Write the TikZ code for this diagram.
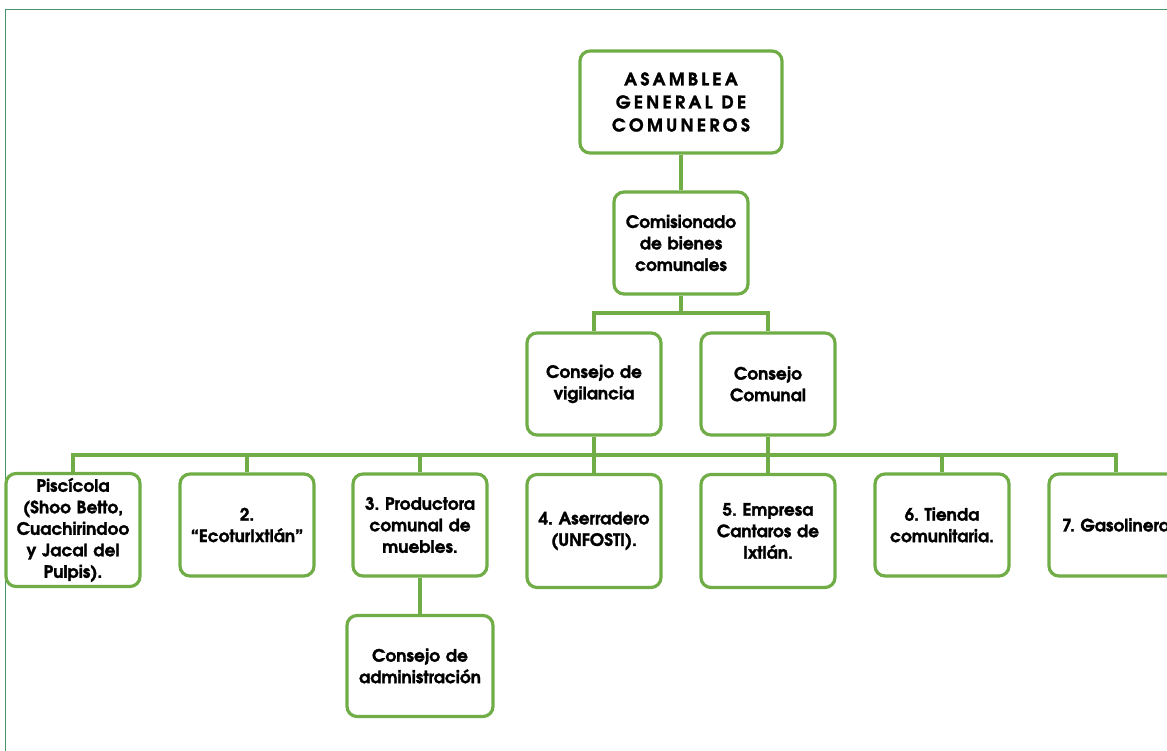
\documentclass[tikz,border=0pt]{standalone}
\usepackage{fontspec}
\setmainfont{texgyreadventor-bold.otf}[FakeBold=1.6]
\definecolor{boxgreen}{RGB}{112,173,71}
\definecolor{framegreen}{RGB}{70,150,105}
\frenchspacing
\begin{document}
\begin{tikzpicture}[x=1pt,y=-1pt,
  orgbox/.style={draw=boxgreen, line width=3.2pt, rounded corners=10pt, fill=white,
    text width=128pt, inner xsep=3pt, inner ysep=0pt, align=center, minimum height=102pt,
    font=\fontsize{17}{21.5}\selectfont},
  link/.style={draw=boxgreen, line width=3.2pt}]
\useasboundingbox (0,0) rectangle (1167,751);
\clip (0,0) rectangle (1167,751);
\draw[framegreen, line width=1.3pt] (1167,9.5) -- (5.5,9.5) -- (5.5,751);
\node[orgbox, text width=196pt, font=\fontsize{17.5}{23}\selectfont\addfontfeature{LetterSpace=19}] (asm) at (681,102) {ASAMBLEA\\GENERAL\hspace{9pt}DE\\COMUNEROS};
\node[orgbox] (com) at (681,243) {Comisionado\\de bienes\\comunales};
\node[orgbox] (vig) at (594,384) {Consejo de\\vigilancia};
\node[orgbox] (cmn) at (768,384) {Consejo\\Comunal};
\node[orgbox, minimum height=113pt] (p1) at (73,530) {Piscícola\\(Shoo Betto,\\Cuachirindoo\\y Jacal del\\Pulpis).};
\node[orgbox] (p2) at (247,525) {2.\\“EcoturIxtlán”};
\node[orgbox] (p3) at (420,525) {3. Productora\\comunal de\\muebles.};
\node[orgbox, minimum height=113pt] (p4) at (594,531) {4. Aserradero\\(UNFOSTI).};
\node[orgbox, minimum height=113pt] (p5) at (768,531) {5. Empresa\\Cantaros de\\Ixtlán.};
\node[orgbox] (p6) at (942,525) {6. Tienda\\comunitaria.};
\node[orgbox] (p7) at (1116,525) {7. Gasolinera};
\node[orgbox, text width=140pt, minimum height=101pt] (adm) at (420,666) {Consejo de\\administración};
\coordinate (busA) at (0,313);
\coordinate (busB) at (0,455);
\draw[link] (asm.south) -- (com.north);
\draw[link] (com.south) -- (com.south |- busA);
\draw[link] (vig.north) -- (vig.north |- busA) -- (cmn.north |- busA) -- (cmn.north);
\draw[link] (p1.north) -- (p1.north |- busB) -- (p7.north |- busB) -- (p7.north);
\foreach \n in {p2,p3,p4,p5,p6} \draw[link] (\n.north) -- (\n.north |- busB);
\draw[link] (vig.south) -- (vig.south |- busB);
\draw[link] (cmn.south) -- (cmn.south |- busB);
\draw[link] (p3.south) -- (adm.north);
\end{tikzpicture}
\end{document}
